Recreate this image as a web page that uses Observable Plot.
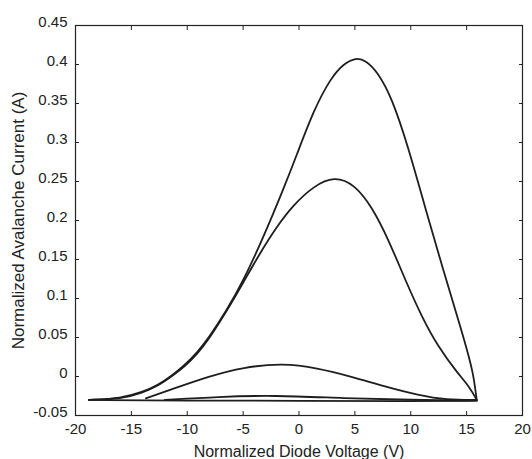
<!DOCTYPE html>
<html>
<head>
<meta charset="utf-8">
<script src="https://cdn.jsdelivr.net/npm/d3@7"></script>
<script src="https://cdn.jsdelivr.net/npm/@observablehq/plot@0.6"></script>
<style>
  html, body { margin: 0; padding: 0; background: #fff; }
  #chart svg { display: block; }
</style>
</head>
<body>
<div id="chart"></div>
<script>
// Tick values
const xTicks = [-20, -15, -10, -5, 0, 5, 10, 15, 20];
const yTicks = [-0.05, 0, 0.05, 0.1, 0.15, 0.2, 0.25, 0.3, 0.35, 0.4, 0.45];

// Loop 1 (largest, peak ~0.40)
const loop1X = [-18.8, -15.9, -14.0, -12.6, -11.3, -10.2, -9.1, -8.1, -6.5, -5.0, -3.2, -1.4, -0.2, 1.3, 2.85, 4.0, 5.1, 6.0, 7.0, 8.3, 9.8, 11.3, 12.85, 14.4, 15.0, 15.6, 15.9];
const loop1Y = [-0.030, -0.028, -0.020, -0.011, 0.002, 0.015, 0.031, 0.049, 0.084, 0.122, 0.178, 0.240, 0.284, 0.341, 0.383, 0.401, 0.409, 0.405, 0.391, 0.358, 0.293, 0.216, 0.139, 0.066, 0.036, 0.004, -0.030];

// Loop 2 (peak ~0.25)
const loop2X = [-18.8, -15.9, -14.0, -12.6, -11.3, -10.2, -9.1, -8.1, -6.5, -5.0, -3.5, -2.0, -0.5, 1.3, 3.15, 5.0, 6.5, 8.0, 9.5, 11.0, 12.5, 14.1, 15.3, 15.9];
const loop2Y = [-0.030, -0.029, -0.021, -0.012, 0.001, 0.013, 0.029, 0.047, 0.083, 0.120, 0.158, 0.192, 0.220, 0.244, 0.257, 0.246, 0.218, 0.176, 0.124, 0.076, 0.037, 0.006, -0.014, -0.030];

// Loop 3 (peak ~0.016)
const loop3X = [-13.7, -11.1, -8.1, -5.0, -1.4, 1.6, 4.7, 7.7, 10.7, 13.2, 15.9];
const loop3Y = [-0.028, -0.015, 0.000, 0.012, 0.017, 0.011, 0.000, -0.013, -0.024, -0.030, -0.030];

// Loop 4 (tiny bump)
const loop4X = [-12.0, -7.2, -2.3, 4.1, 10.0, 15.9];
const loop4Y = [-0.030, -0.026, -0.024, -0.028, -0.030, -0.031];

// Return path along the bottom
const baseX = [-18.8, -10.0, 0.0, 10.0, 15.9];
const baseY = [-0.030, -0.031, -0.031, -0.032, -0.031];

const series = [
  {name: "loop1", xs: loop1X, ys: loop1Y},
  {name: "loop2", xs: loop2X, ys: loop2Y},
  {name: "loop3", xs: loop3X, ys: loop3Y},
  {name: "loop4", xs: loop4X, ys: loop4Y},
  {name: "base", xs: baseX, ys: baseY}
];
const rows = series.flatMap(s => s.xs.map((x, i) => ({series: s.name, x, y: s.ys[i]})));

const fmt = d => String(+d.toFixed(2)).replace("\u2212", "-");
const blank = () => "";

const chart = Plot.plot({
  width: 532,
  height: 459,
  marginLeft: 75,
  marginRight: 10,
  marginTop: 25,
  marginBottom: 44,
  style: {fontFamily: "'Liberation Sans', Arial, sans-serif", fontSize: "15px", background: "#fff", color: "#222"},
  x: {domain: [-20, 20]},
  y: {domain: [-0.05, 0.45]},
  marks: [
    // tick labels
    Plot.axisX(xTicks, {anchor: "bottom", tickSize: 0, tickPadding: 8, tickFormat: fmt, label: null, fontSize: 15}),
    Plot.axisY(yTicks, {anchor: "left", tickSize: 0, tickPadding: 8, tickFormat: fmt, label: null, fontSize: 15, dy: -3}),
    // axis titles
    Plot.axisX(xTicks, {anchor: "bottom", tickSize: 0, tickFormat: blank, label: "Normalized Diode Voltage (V)", labelAnchor: "center", labelArrow: "none", labelOffset: 41, fontSize: 16}),
    Plot.axisY(yTicks, {anchor: "left", tickSize: 0, tickFormat: blank, label: "Normalized Avalanche Current (A)", labelAnchor: "center", labelArrow: "none", labelOffset: 64, fontSize: 17, dy: -10}),
    // inward ticks on all four sides
    Plot.axisX(xTicks, {anchor: "bottom", tickSize: -4, tickFormat: blank, label: null, stroke: "#222"}),
    Plot.axisX(xTicks, {anchor: "top", tickSize: -4, tickFormat: blank, label: null, stroke: "#222"}),
    Plot.axisY(yTicks, {anchor: "left", tickSize: -4, tickFormat: blank, label: null, stroke: "#222"}),
    Plot.axisY(yTicks, {anchor: "right", tickSize: -4, tickFormat: blank, label: null, stroke: "#222"}),
    Plot.frame({stroke: "#222", strokeWidth: 1.2}),
    Plot.line(rows, {x: "x", y: "y", z: "series", curve: "basis", stroke: "#1e1e1e", strokeWidth: 1.8})
  ]
});
document.getElementById("chart").appendChild(chart);
</script>
</body>
</html>
